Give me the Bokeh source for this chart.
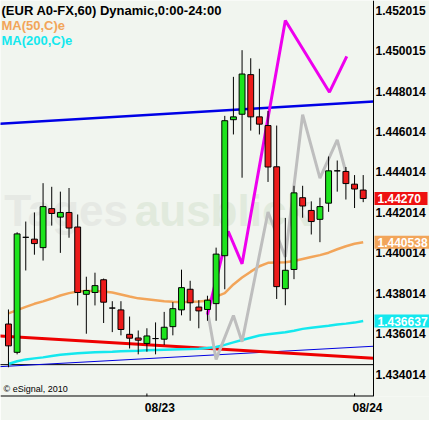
from bokeh.plotting import figure
from bokeh.models import FixedTicker, Label
from bokeh.core.properties import value
from bokeh.embed import file_html
from bokeh.resources import INLINE

# ---------------- data (hourly EUR/USD candles, index 0..41) ----------------
hours = list(range(42))
opens = [1.43649, 1.43509, 1.44078, 1.44069, 1.44027, 1.44220, 1.44178, 1.44201, 1.44129, 1.43796,
         1.43805, 1.43868, 1.43728, 1.43719, 1.43598, 1.43580, 1.43553, 1.43577, 1.43574, 1.43636,
         1.43719, 1.43821, 1.43733, 1.43721, 1.43750, 1.43987, 1.44660, 1.44687, 1.44883, 1.44674,
         1.44631, 1.44427, 1.43824, 1.43919, 1.44274, 1.44211, 1.44167, 1.44247, 1.44407, 1.44404,
         1.44341, 1.44312]
highs = [1.43721, 1.44103, 1.44156, 1.44201, 1.44346, 1.44328, 1.44304, 1.44322, 1.44191, 1.43883,
         1.43903, 1.43874, 1.43762, 1.43762, 1.43686, 1.43617, 1.43628, 1.43657, 1.43709, 1.43757,
         1.43918, 1.43863, 1.43767, 1.43789, 1.44027, 1.44679, 1.44872, 1.45004, 1.44964, 1.44912,
         1.44703, 1.44631, 1.44174, 1.44333, 1.44333, 1.44256, 1.44274, 1.44478, 1.44458, 1.44426,
         1.44386, 1.44386]
lows = [1.43435, 1.43499, 1.43914, 1.43992, 1.43963, 1.44136, 1.44001, 1.44076, 1.43741, 1.43601,
        1.43741, 1.43654, 1.43609, 1.43593, 1.43528, 1.43499, 1.43512, 1.43499, 1.43545, 1.43593,
        1.43692, 1.43665, 1.43628, 1.43665, 1.43665, 1.43821, 1.44587, 1.44373, 1.44606, 1.44587,
        1.44352, 1.43773, 1.43742, 1.43871, 1.44175, 1.44092, 1.44054, 1.44204, 1.44304, 1.44265,
        1.44223, 1.44252]
closes = [1.43541, 1.44095, 1.44078, 1.44047, 1.44230, 1.44196, 1.44201, 1.44124, 1.43805, 1.43815,
          1.43839, 1.43757, 1.43728, 1.43622, 1.43579, 1.43569, 1.43590, 1.43577, 1.43633, 1.43725,
          1.43829, 1.43754, 1.43714, 1.43767, 1.43995, 1.44655, 1.44674, 1.44886, 1.44674, 1.44638,
          1.44426, 1.43834, 1.43915, 1.44298, 1.44233, 1.44156, 1.44230, 1.44407, 1.44407, 1.44344,
          1.44317, 1.44270]

ma50 = [1.43702, 1.43718, 1.43734, 1.43749, 1.43761, 1.43775, 1.43790, 1.43802, 1.43810, 1.43813,
        1.43813, 1.43810, 1.43805, 1.43795, 1.43785, 1.43776, 1.43772, 1.43767, 1.43762, 1.43759,
        1.43757, 1.43759, 1.43761, 1.43764, 1.43785, 1.43802, 1.43845, 1.43879, 1.43908, 1.43935,
        1.43952, 1.43954, 1.43955, 1.43961, 1.43971, 1.43981, 1.43990, 1.44002, 1.44019, 1.44034,
        1.44046, 1.440538]
ma200 = [1.43451, 1.43465, 1.43474, 1.43479, 1.43484, 1.43491, 1.43497, 1.43501, 1.43504, 1.43507,
         1.43509, 1.43511, 1.43512, 1.43514, 1.43516, 1.43517, 1.43519, 1.43521, 1.43522, 1.43523,
         1.43524, 1.43525, 1.43527, 1.43530, 1.43535, 1.43546, 1.43558, 1.43570, 1.43581, 1.43592,
         1.43598, 1.43603, 1.43608, 1.43616, 1.43625, 1.43630, 1.43635, 1.43640, 1.43647, 1.43651,
         1.43656, 1.436637]

# trend lines (two anchor points each)
trend_x = [-1, 43]
blue_upper = [1.44640, 1.44752]
blue_lower = [1.43438, 1.43541]
red_trend = [1.43590, 1.43478]
support_level = [1.43448, 1.43448]

# projection lines
magenta_x = [23, 25.4, 27, 32, 37.1, 39.1]
magenta_y = [1.43696, 1.44108, 1.43947, 1.45151, 1.44796, 1.44973]
gray_x = [23, 24, 26, 27, 30, 32, 34, 36, 38, 39]
gray_y = [1.43715, 1.43474, 1.43691, 1.43561, 1.44203, 1.43981, 1.44685, 1.44371, 1.44560, 1.44400]

price_ticks = [1.434014, 1.436014, 1.438014, 1.440014, 1.442014, 1.444014,
               1.446014, 1.448014, 1.450015, 1.452015]
day_starts = [16, 40]
day_labels = ["08/23", "08/24"]

# ---------------- styling / layout ----------------
BG = "#f1f5ef"
GREEN = "#1de41d"
RED = "#ec1b1b"
FONT = "Liberation Sans"
W, H = 429, 420
BB = 24
FRAME_H = H - BB
CHART_W = 373                      # width of the candle area, price scale to its right
x_lo, x_hi = -0.92, 42.19          # candle area (x_hi = price scale line)
y_lo, y_hi = 1.432904, 1.452498
PPU = CHART_W / (x_hi - x_lo)      # pixels per hour
x_full = x_lo + W / PPU            # frame spans the price scale too

p = figure(width=W, height=H, x_range=(x_lo, x_full), y_range=(y_lo, y_hi),
           output_backend="svg", toolbar_location=None, y_axis_location=None,
           min_border_left=0, min_border_top=0, min_border_right=0, min_border_bottom=BB,
           background_fill_color=BG, border_fill_color=BG, outline_line_color=None)
p.grid.visible = False

# watermark
p.text(x=[-0.5], y=[1.44212], text=["Tages"], text_font=value(FONT), text_font_style="bold",
       text_font_size="44px", text_color="#e6e9e4", text_baseline="alphabetic", text_align="left")
p.text(x=[14.6], y=[1.44212], text=["ausblick"], text_font=value(FONT), text_font_style="bold",
       text_font_size="44px", text_color="#e1eadd", text_baseline="alphabetic", text_align="left")

# trend / support lines (clipped at the price scale)
def clip_line(xs, ys):
    # cut a 2-point line at the price scale line
    (x0, x1), (y0, y1) = xs, ys
    yc = y0 + (y1 - y0) * (x_hi - x0) / (x1 - x0)
    return [x0, x_hi], [y0, yc]

for ys, col, lw in [(support_level, "black", 1), (blue_lower, "#0000e0", 1),
                    (red_trend, "#ee0000", 3), (blue_upper, "#0000e6", 2.5)]:
    lx, ly = clip_line(trend_x, ys)
    p.line(lx, ly, line_color=col, line_width=lw)

# moving averages
p.line(hours, ma50, line_color="#f2a55a", line_width=2.5)
p.line(hours, ma200, line_color="#14e8ee", line_width=2.5)

# projection lines
p.line(gray_x, gray_y, line_color="#bebebe", line_width=3)
p.line(magenta_x, magenta_y, line_color="#ee00ee", line_width=3)

# candles
tops = [max(o, c) for o, c in zip(opens, closes)]
bottoms = [min(o, c) for o, c in zip(opens, closes)]
colors = [GREEN if c >= o else RED for o, c in zip(opens, closes)]
p.segment(x0=hours, y0=highs, x1=hours, y1=lows, line_color="black", line_width=1)
p.vbar(x=hours, width=0.68, top=tops, bottom=bottoms, fill_color=colors,
       line_color="black", line_width=1)

# time axis line and day-boundary ticks
tick_len = (y_hi - y_lo) * 3 / FRAME_H
p.segment(x0=[x_lo], y0=[y_lo], x1=[x_hi], y1=[y_lo], line_color="black", line_width=2)
p.segment(x0=day_starts, y0=[y_lo] * len(day_starts), x1=day_starts,
          y1=[y_lo + tick_len] * len(day_starts), line_color="black", line_width=1)

# price scale: line, tick labels
p.segment(x0=[x_hi], y0=[y_lo], x1=[x_hi], y1=[y_hi], line_color="black", line_width=1)
p.text(x=[x_hi] * len(price_ticks), y=price_ticks, text=[f"{t:.6f}" for t in price_ticks],
       x_offset=2, text_font=value(FONT), text_font_style="bold", text_font_size="12px",
       text_color="black", text_baseline="middle", text_align="left")

# last value boxes on the price scale
box_vals = [closes[-1], ma50[-1], ma200[-1]]
box_txt = [f"{closes[-1]:.5f}", f"{ma50[-1]:.6f}", f"{ma200[-1]:.6f}"]
box_col = ["#ee1111", "#f2a55a", "#14e8ee"]
box_w = [53, 56, 56]
p.rect(x=[x_hi + (1 + w / 2) / PPU for w in box_w], y=box_vals, width=box_w, height=13,
       width_units="screen", height_units="screen", fill_color=box_col, line_color=None)
p.text(x=[x_hi] * 3, y=box_vals, text=box_txt, x_offset=4, text_font=value(FONT),
       text_font_style="bold", text_font_size="12px", text_color="white",
       text_baseline="middle", text_align="left")

# date axis (library axis, labels just right of the day boundary)
xa = p.xaxis[0]
label_pos = [d + 1.5 for d in day_starts]
xa.ticker = FixedTicker(ticks=label_pos)
xa.major_label_overrides = {pos: lbl for pos, lbl in zip(label_pos, day_labels)}
xa.major_tick_in = 0
xa.major_tick_out = 0
xa.minor_tick_in = 0
xa.minor_tick_out = 0
xa.major_label_standoff = 4
xa.axis_line_color = None
xa.major_label_text_font = FONT
xa.major_label_text_font_style = "bold"
xa.major_label_text_font_size = "12px"
xa.major_label_text_color = "black"

# header texts
p.add_layout(Label(x=1, y=FRAME_H - 2, x_units="screen", y_units="screen",
                   text="(EUR A0-FX,60) Dynamic,0:00-24:00", text_font=FONT,
                   text_font_style="bold", text_font_size="13px", text_color="black",
                   text_baseline="top", text_align="left"))
p.add_layout(Label(x=1, y=FRAME_H - 17, x_units="screen", y_units="screen",
                   text="MA(50,C)e", text_font=FONT, text_font_style="bold",
                   text_font_size="13px", text_color="#f2a55a",
                   text_baseline="top", text_align="left"))
p.add_layout(Label(x=1, y=FRAME_H - 32, x_units="screen", y_units="screen",
                   text="MA(200,C)e", text_font=FONT, text_font_style="bold",
                   text_font_size="13px", text_color="#14e8ee",
                   text_baseline="top", text_align="left"))
p.add_layout(Label(x=3, y=3, x_units="screen", y_units="screen",
                   text="\u00a9 eSignal, 2010", text_font=FONT, text_font_size="9px",
                   text_color="black", text_baseline="bottom", text_align="left"))

open("out.html", "w").write(file_html(p, INLINE))
